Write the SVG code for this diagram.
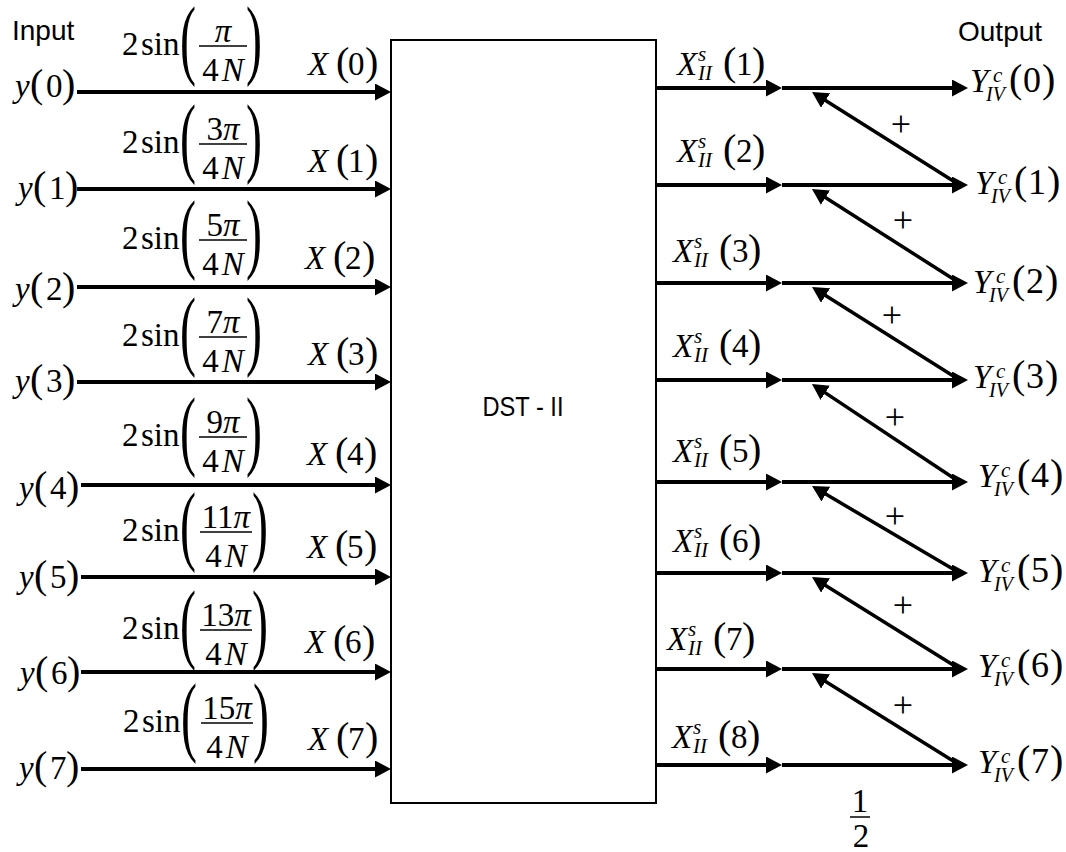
<svg xmlns="http://www.w3.org/2000/svg" width="1066" height="852" viewBox="0 0 1066 852">
<style>
.m{font-family:"Liberation Serif","Times New Roman",serif;font-size:33px;fill:#000}
.i{font-style:italic}
.p{font-size:40px;font-style:normal}
.ss{font-size:21px;font-style:italic}
.sv{font-size:20px;font-style:italic}
.bp{font-family:"Liberation Serif","Times New Roman",serif;font-size:40px;fill:#000}
.d{font-size:36px}
.t{font-family:"Liberation Sans",Arial,sans-serif;font-size:28px;fill:#000}
.ln{stroke:#000;stroke-width:4;fill:none;marker-end:url(#ah)}
.dg{stroke:#000;stroke-width:3.5;fill:none;marker-end:url(#ah)}
.fb{stroke:#000;stroke-width:1.5}
.pl{font-size:36px}
</style>
<defs>
<marker id="ah" markerUnits="userSpaceOnUse" markerWidth="16" markerHeight="17" refX="8" refY="8.5" orient="auto">
<path d="M0,0 L16,8.5 L0,17 Z" fill="#000"/>
</marker>
</defs>
<rect width="1066" height="852" fill="#fff"/>

<g id="titles">
<text class="t" x="12" y="40">Input</text>
<text class="t" x="958" y="41">Output</text>
</g>

<g id="dst">
<rect x="391" y="40" width="265" height="763" fill="none" stroke="#000" stroke-width="2"/>
<text class="t" x="523" y="416" text-anchor="middle" textLength="81" lengthAdjust="spacingAndGlyphs">DST - II</text>
</g>

<g id="connectors">
<line class="ln" x1="77" y1="92" x2="383" y2="92"/>
<line class="ln" x1="77" y1="189" x2="383" y2="189"/>
<line class="ln" x1="77" y1="287" x2="383" y2="287"/>
<line class="ln" x1="77" y1="382" x2="383" y2="382"/>
<line class="ln" x1="81" y1="485" x2="383" y2="485"/>
<line class="ln" x1="81" y1="577" x2="383" y2="577"/>
<line class="ln" x1="81" y1="672" x2="383" y2="672"/>
<line class="ln" x1="81" y1="769" x2="383" y2="769"/>

<line class="ln" x1="656" y1="88" x2="774" y2="88"/>
<line class="ln" x1="782" y1="88" x2="960" y2="88"/>
<line class="ln" x1="656" y1="185" x2="774" y2="185"/>
<line class="ln" x1="782" y1="185" x2="960" y2="185"/>
<line class="ln" x1="656" y1="283" x2="774" y2="283"/>
<line class="ln" x1="782" y1="283" x2="960" y2="283"/>
<line class="ln" x1="656" y1="380" x2="774" y2="380"/>
<line class="ln" x1="782" y1="380" x2="960" y2="380"/>
<line class="ln" x1="656" y1="482" x2="774" y2="482"/>
<line class="ln" x1="782" y1="482" x2="960" y2="482"/>
<line class="ln" x1="656" y1="573" x2="774" y2="573"/>
<line class="ln" x1="782" y1="573" x2="960" y2="573"/>
<line class="ln" x1="656" y1="669" x2="774" y2="669"/>
<line class="ln" x1="782" y1="669" x2="960" y2="669"/>
<line class="ln" x1="656" y1="765" x2="774" y2="765"/>
<line class="ln" x1="782" y1="765" x2="960" y2="765"/>

<line class="dg" x1="958" y1="184" x2="818.8" y2="96.3"/>
<line class="dg" x1="958" y1="282" x2="818.7" y2="193.3"/>
<line class="dg" x1="958" y1="379" x2="818.8" y2="291.3"/>
<line class="dg" x1="958" y1="481" x2="818.6" y2="388.4"/>
<line class="dg" x1="958" y1="572" x2="818.9" y2="490.1"/>
<line class="dg" x1="958" y1="668" x2="818.8" y2="581.2"/>
<line class="dg" x1="958" y1="764" x2="818.8" y2="677.2"/>
</g>

<g id="plus">
<text class="m pl" x="901" y="136" text-anchor="middle">+</text>
<text class="m pl" x="903" y="232" text-anchor="middle">+</text>
<text class="m pl" x="892" y="327" text-anchor="middle">+</text>
<text class="m pl" x="895" y="429" text-anchor="middle">+</text>
<text class="m pl" x="895" y="528" text-anchor="middle">+</text>
<text class="m pl" x="903" y="617" text-anchor="middle">+</text>
<text class="m pl" x="903" y="717" text-anchor="middle">+</text>
</g>

<g id="y0"><text class="m" y="97"><tspan x="15" class="i">y</tspan><tspan x="30" class="p">(</tspan><tspan x="46">0</tspan><tspan x="62" class="p">)</tspan></text></g>
<g id="y1"><text class="m" y="199"><tspan x="18" class="i">y</tspan><tspan x="33" class="p">(</tspan><tspan x="49">1</tspan><tspan x="65" class="p">)</tspan></text></g>
<g id="y2"><text class="m" y="300"><tspan x="15" class="i">y</tspan><tspan x="30" class="p">(</tspan><tspan x="46">2</tspan><tspan x="62" class="p">)</tspan></text></g>
<g id="y3"><text class="m" y="392"><tspan x="15" class="i">y</tspan><tspan x="30" class="p">(</tspan><tspan x="46">3</tspan><tspan x="62" class="p">)</tspan></text></g>
<g id="y4"><text class="m" y="499"><tspan x="19" class="i">y</tspan><tspan x="34" class="p">(</tspan><tspan x="50">4</tspan><tspan x="66" class="p">)</tspan></text></g>
<g id="y5"><text class="m" y="588"><tspan x="19" class="i">y</tspan><tspan x="34" class="p">(</tspan><tspan x="50">5</tspan><tspan x="66" class="p">)</tspan></text></g>
<g id="y6"><text class="m" y="684"><tspan x="20" class="i">y</tspan><tspan x="35" class="p">(</tspan><tspan x="51">6</tspan><tspan x="67" class="p">)</tspan></text></g>
<g id="y7"><text class="m" y="779"><tspan x="19" class="i">y</tspan><tspan x="34" class="p">(</tspan><tspan x="50">7</tspan><tspan x="66" class="p">)</tspan></text></g>

<g id="c0">
<text class="m" y="55"><tspan x="122">2</tspan><tspan x="141">sin</tspan></text>
<text class="bp" transform="translate(180,68) scale(1.2,2.2)">(</text>
<text class="m" x="223" y="42" text-anchor="middle"><tspan class="i">π</tspan></text>
<line class="fb" x1="199" y1="46" x2="247" y2="46"/>
<text class="m" x="223" y="81" text-anchor="middle">4<tspan class="i" dx="3">N</tspan></text>
<text class="bp" transform="translate(246,68) scale(1.2,2.2)">)</text>
</g>
<g id="c1">
<text class="m" y="153"><tspan x="122">2</tspan><tspan x="141">sin</tspan></text>
<text class="bp" transform="translate(180,166) scale(1.2,2.2)">(</text>
<text class="m" x="223" y="140" text-anchor="middle">3<tspan class="i">π</tspan></text>
<line class="fb" x1="199" y1="144" x2="247" y2="144"/>
<text class="m" x="223" y="179" text-anchor="middle">4<tspan class="i" dx="3">N</tspan></text>
<text class="bp" transform="translate(246,166) scale(1.2,2.2)">)</text>
</g>
<g id="c2">
<text class="m" y="249"><tspan x="122">2</tspan><tspan x="141">sin</tspan></text>
<text class="bp" transform="translate(180,262) scale(1.2,2.2)">(</text>
<text class="m" x="223" y="236" text-anchor="middle">5<tspan class="i">π</tspan></text>
<line class="fb" x1="199" y1="240" x2="247" y2="240"/>
<text class="m" x="223" y="275" text-anchor="middle">4<tspan class="i" dx="3">N</tspan></text>
<text class="bp" transform="translate(246,262) scale(1.2,2.2)">)</text>
</g>
<g id="c3">
<text class="m" y="346"><tspan x="122">2</tspan><tspan x="141">sin</tspan></text>
<text class="bp" transform="translate(180,359) scale(1.2,2.2)">(</text>
<text class="m" x="223" y="333" text-anchor="middle">7<tspan class="i">π</tspan></text>
<line class="fb" x1="199" y1="337" x2="247" y2="337"/>
<text class="m" x="223" y="372" text-anchor="middle">4<tspan class="i" dx="3">N</tspan></text>
<text class="bp" transform="translate(246,359) scale(1.2,2.2)">)</text>
</g>
<g id="c4">
<text class="m" y="446"><tspan x="122">2</tspan><tspan x="141">sin</tspan></text>
<text class="bp" transform="translate(180,459) scale(1.2,2.2)">(</text>
<text class="m" x="223" y="433" text-anchor="middle">9<tspan class="i">π</tspan></text>
<line class="fb" x1="199" y1="437" x2="247" y2="437"/>
<text class="m" x="223" y="472" text-anchor="middle">4<tspan class="i" dx="3">N</tspan></text>
<text class="bp" transform="translate(246,459) scale(1.2,2.2)">)</text>
</g>
<g id="c5">
<text class="m" y="541"><tspan x="122">2</tspan><tspan x="141">sin</tspan></text>
<text class="bp" transform="translate(180,554) scale(1.2,2.2)">(</text>
<text class="m" x="226" y="528" text-anchor="middle">11<tspan class="i">π</tspan></text>
<line class="fb" x1="200" y1="532" x2="252" y2="532"/>
<text class="m" x="226" y="567" text-anchor="middle">4<tspan class="i" dx="3">N</tspan></text>
<text class="bp" transform="translate(252,554) scale(1.2,2.2)">)</text>
</g>
<g id="c6">
<text class="m" y="639"><tspan x="122">2</tspan><tspan x="141">sin</tspan></text>
<text class="bp" transform="translate(180,652) scale(1.2,2.2)">(</text>
<text class="m" x="226" y="626" text-anchor="middle">13<tspan class="i">π</tspan></text>
<line class="fb" x1="200" y1="630" x2="252" y2="630"/>
<text class="m" x="226" y="665" text-anchor="middle">4<tspan class="i" dx="3">N</tspan></text>
<text class="bp" transform="translate(252,652) scale(1.2,2.2)">)</text>
</g>
<g id="c7">
<text class="m" y="732"><tspan x="123">2</tspan><tspan x="142">sin</tspan></text>
<text class="bp" transform="translate(181,745) scale(1.2,2.2)">(</text>
<text class="m" x="227" y="719" text-anchor="middle">15<tspan class="i">π</tspan></text>
<line class="fb" x1="201" y1="723" x2="253" y2="723"/>
<text class="m" x="227" y="758" text-anchor="middle">4<tspan class="i" dx="3">N</tspan></text>
<text class="bp" transform="translate(253,745) scale(1.2,2.2)">)</text>
</g>

<g id="x0"><text class="m" y="75"><tspan x="308" class="i">X</tspan><tspan x="336" class="p">(</tspan><tspan x="348">0</tspan><tspan x="365" class="p">)</tspan></text></g>
<g id="x1"><text class="m" y="172"><tspan x="308" class="i">X</tspan><tspan x="336" class="p">(</tspan><tspan x="348">1</tspan><tspan x="365" class="p">)</tspan></text></g>
<g id="x2"><text class="m" y="269"><tspan x="305" class="i">X</tspan><tspan x="333" class="p">(</tspan><tspan x="345">2</tspan><tspan x="362" class="p">)</tspan></text></g>
<g id="x3"><text class="m" y="365"><tspan x="308" class="i">X</tspan><tspan x="336" class="p">(</tspan><tspan x="348">3</tspan><tspan x="365" class="p">)</tspan></text></g>
<g id="x4"><text class="m" y="465"><tspan x="307" class="i">X</tspan><tspan x="335" class="p">(</tspan><tspan x="347">4</tspan><tspan x="364" class="p">)</tspan></text></g>
<g id="x5"><text class="m" y="558"><tspan x="307" class="i">X</tspan><tspan x="335" class="p">(</tspan><tspan x="347">5</tspan><tspan x="364" class="p">)</tspan></text></g>
<g id="x6"><text class="m" y="653"><tspan x="305" class="i">X</tspan><tspan x="333" class="p">(</tspan><tspan x="345">6</tspan><tspan x="362" class="p">)</tspan></text></g>
<g id="x7"><text class="m" y="750"><tspan x="308" class="i">X</tspan><tspan x="336" class="p">(</tspan><tspan x="348">7</tspan><tspan x="365" class="p">)</tspan></text></g>

<g id="xs1"><text class="m" y="75"><tspan x="677" class="i">X</tspan><tspan x="698" y="61" class="ss">s</tspan><tspan x="698" y="80" class="ss">II</tspan><tspan x="723" y="75" class="p">(</tspan><tspan x="736">1</tspan><tspan x="752" class="p">)</tspan></text></g>
<g id="xs2"><text class="m" y="162"><tspan x="677" class="i">X</tspan><tspan x="698" y="148" class="ss">s</tspan><tspan x="698" y="167" class="ss">II</tspan><tspan x="723" y="162" class="p">(</tspan><tspan x="736">2</tspan><tspan x="752" class="p">)</tspan></text></g>
<g id="xs3"><text class="m" y="262"><tspan x="673" class="i">X</tspan><tspan x="694" y="248" class="ss">s</tspan><tspan x="694" y="267" class="ss">II</tspan><tspan x="719" y="262" class="p">(</tspan><tspan x="732">3</tspan><tspan x="748" class="p">)</tspan></text></g>
<g id="xs4"><text class="m" y="357"><tspan x="673" class="i">X</tspan><tspan x="694" y="343" class="ss">s</tspan><tspan x="694" y="362" class="ss">II</tspan><tspan x="719" y="357" class="p">(</tspan><tspan x="732">4</tspan><tspan x="748" class="p">)</tspan></text></g>
<g id="xs5"><text class="m" y="462"><tspan x="673" class="i">X</tspan><tspan x="694" y="448" class="ss">s</tspan><tspan x="694" y="467" class="ss">II</tspan><tspan x="719" y="462" class="p">(</tspan><tspan x="732">5</tspan><tspan x="748" class="p">)</tspan></text></g>
<g id="xs6"><text class="m" y="552"><tspan x="673" class="i">X</tspan><tspan x="694" y="538" class="ss">s</tspan><tspan x="694" y="557" class="ss">II</tspan><tspan x="719" y="552" class="p">(</tspan><tspan x="732">6</tspan><tspan x="748" class="p">)</tspan></text></g>
<g id="xs7"><text class="m" y="650"><tspan x="667" class="i">X</tspan><tspan x="688" y="636" class="ss">s</tspan><tspan x="688" y="655" class="ss">II</tspan><tspan x="713" y="650" class="p">(</tspan><tspan x="726">7</tspan><tspan x="742" class="p">)</tspan></text></g>
<g id="xs8"><text class="m" y="748"><tspan x="672" class="i">X</tspan><tspan x="693" y="734" class="ss">s</tspan><tspan x="693" y="753" class="ss">II</tspan><tspan x="718" y="748" class="p">(</tspan><tspan x="731">8</tspan><tspan x="747" class="p">)</tspan></text></g>

<g id="yc0"><text class="m" y="92"><tspan x="970" class="i">Y</tspan><tspan x="993" y="82" class="ss">c</tspan><tspan x="986" y="101" class="sv">IV</tspan><tspan x="1009" y="92" class="p">(</tspan><tspan x="1023" class="d">0</tspan><tspan x="1042" class="p">)</tspan></text></g>
<g id="yc1"><text class="m" y="194"><tspan x="975" class="i">Y</tspan><tspan x="998" y="184" class="ss">c</tspan><tspan x="991" y="203" class="sv">IV</tspan><tspan x="1014" y="194" class="p">(</tspan><tspan x="1028" class="d">1</tspan><tspan x="1047" class="p">)</tspan></text></g>
<g id="yc2"><text class="m" y="293"><tspan x="973" class="i">Y</tspan><tspan x="996" y="283" class="ss">c</tspan><tspan x="989" y="302" class="sv">IV</tspan><tspan x="1012" y="293" class="p">(</tspan><tspan x="1026" class="d">2</tspan><tspan x="1045" class="p">)</tspan></text></g>
<g id="yc3"><text class="m" y="388"><tspan x="973" class="i">Y</tspan><tspan x="996" y="378" class="ss">c</tspan><tspan x="989" y="397" class="sv">IV</tspan><tspan x="1012" y="388" class="p">(</tspan><tspan x="1026" class="d">3</tspan><tspan x="1045" class="p">)</tspan></text></g>
<g id="yc4"><text class="m" y="487"><tspan x="978" class="i">Y</tspan><tspan x="1001" y="477" class="ss">c</tspan><tspan x="994" y="496" class="sv">IV</tspan><tspan x="1017" y="487" class="p">(</tspan><tspan x="1031" class="d">4</tspan><tspan x="1050" class="p">)</tspan></text></g>
<g id="yc5"><text class="m" y="582"><tspan x="978" class="i">Y</tspan><tspan x="1001" y="572" class="ss">c</tspan><tspan x="994" y="591" class="sv">IV</tspan><tspan x="1017" y="582" class="p">(</tspan><tspan x="1031" class="d">5</tspan><tspan x="1050" class="p">)</tspan></text></g>
<g id="yc6"><text class="m" y="677"><tspan x="978" class="i">Y</tspan><tspan x="1001" y="667" class="ss">c</tspan><tspan x="994" y="686" class="sv">IV</tspan><tspan x="1017" y="677" class="p">(</tspan><tspan x="1031" class="d">6</tspan><tspan x="1050" class="p">)</tspan></text></g>
<g id="yc7"><text class="m" y="773"><tspan x="978" class="i">Y</tspan><tspan x="1001" y="763" class="ss">c</tspan><tspan x="994" y="782" class="sv">IV</tspan><tspan x="1017" y="773" class="p">(</tspan><tspan x="1031" class="d">7</tspan><tspan x="1050" class="p">)</tspan></text></g>

<g id="half">
<text class="m" x="860" y="812" text-anchor="middle">1</text>
<line class="fb" x1="850" y1="817" x2="870" y2="817"/>
<text class="m" x="861" y="847" text-anchor="middle">2</text>
</g>
</svg>
